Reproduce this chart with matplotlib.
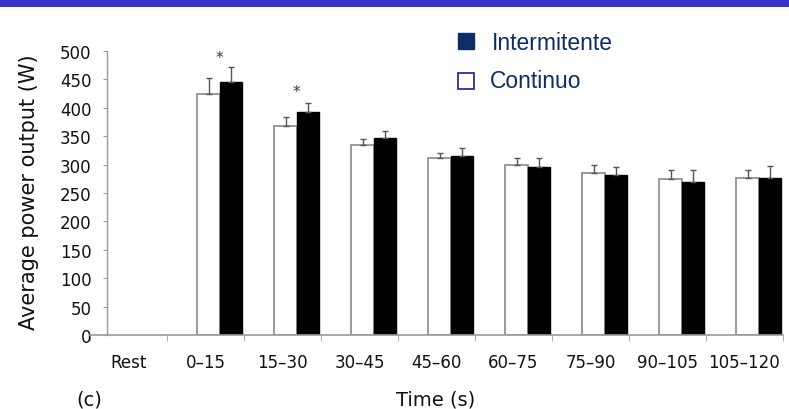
import matplotlib
matplotlib.use("Agg")
import matplotlib.pyplot as plt
from matplotlib.patches import Rectangle
import numpy as np

categories = ["Rest", "0\u201315", "15\u201330", "30\u201345", "45\u201360", "60\u201375", "75\u201390", "90\u2013105", "105\u2013120"]
continuo = [0, 424, 368, 335, 311, 300, 285, 275, 276]
continuo_err = [0, 28, 16, 10, 9, 11, 15, 16, 15]
intermitente = [0, 446, 393, 346, 316, 295, 282, 270, 276]
intermitente_err = [0, 25, 15, 14, 14, 16, 14, 21, 21]
asterisk_idx = [1, 2]
asterisk_y = [489, 428]
yticks = [0, 50, 100, 150, 200, 250, 300, 350, 400, 450, 500]

W, H = 789, 410
fig = plt.figure(figsize=(W / 100, H / 100), dpi=100)
fig.patch.set_facecolor("white")

# top blue band
fig.patches.append(Rectangle((0, 1 - 8 / H), 1, 8 / H, transform=fig.transFigure,
                             facecolor="#3434c8", edgecolor="none"))

ax = fig.add_axes([90 / W, 74 / H, 693 / W, 284 / H])
ax.set_facecolor("white")

x = np.arange(len(categories))
bw = 0.286
off_w = -0.104 + bw / 2
off_b = off_w + bw

mask = np.array(continuo) > 0
xc = x[mask]
ax.bar(xc + off_w, np.array(continuo)[mask], bw, color="white", edgecolor="#8a8a8a", linewidth=1.2, zorder=2)
ax.bar(xc + off_b, np.array(intermitente)[mask], bw, color="black", edgecolor="black", linewidth=1, zorder=2)
ax.errorbar(xc + off_w, np.array(continuo)[mask],
            yerr=[np.zeros(mask.sum()), np.array(continuo_err)[mask]],
            fmt="none", ecolor="#555555", elinewidth=1, capsize=2.5, capthick=1, zorder=3)
ax.errorbar(xc + off_b, np.array(intermitente)[mask],
            yerr=[np.zeros(mask.sum()), np.array(intermitente_err)[mask]],
            fmt="none", ecolor="#555555", elinewidth=1, capsize=2.5, capthick=1, zorder=3)

for i, yv in zip(asterisk_idx, asterisk_y):
    ax.text(i + off_w + bw / 2, yv, "*", ha="center", va="center", fontsize=11, color="#333333")

ax.set_xlim(-0.5, len(categories) - 0.5)
ax.set_ylim(0, 500)

for s in ["top", "right"]:
    ax.spines[s].set_visible(False)
ax.spines["left"].set_position(("data", -0.28))
ax.spines["left"].set_color("#9a9a9a")
ax.spines["bottom"].set_color("#9a9a9a")
ax.spines["left"].set_linewidth(1)
ax.spines["bottom"].set_linewidth(1.2)

tickfont = dict(family="DejaVu Sans", size=12)
ax.set_yticks(yticks)
ax.set_yticklabels([str(v) for v in yticks], **tickfont)
ax.tick_params(axis="y", length=3, color="#9a9a9a", pad=8, colors="#111111")
ax.set_xticks(x)
ax.set_xticklabels(categories, **tickfont)
ax.tick_params(axis="x", length=0, pad=13, colors="#111111")
ax.set_xticks(np.arange(len(categories) + 1) - 0.5, minor=True)
ax.tick_params(axis="x", which="minor", length=4, color="#9a9a9a")

ax.set_ylabel("Average power output (W)", family="DejaVu Sans", fontsize=15, color="#111111")
ax.yaxis.set_label_coords((39 - 90) / 693, (336 - 192) / 284)
fig.text(436 / W, 1 - 400 / H, "Time (s)", ha="center", va="center", family="DejaVu Sans", fontsize=14, color="#111111")
fig.text(89 / W, 1 - 400 / H, "(c)", ha="center", va="center", family="DejaVu Sans", fontsize=14, color="#111111")

# legend
navy = "#0c2d66"
fig.patches.append(Rectangle((458 / W, 1 - 50 / H), 16 / W, 16 / H, transform=fig.transFigure,
                             facecolor=navy, edgecolor=navy))
fig.patches.append(Rectangle((458 / W, 1 - 90 / H), 16 / W, 16 / H, transform=fig.transFigure,
                             facecolor="white", edgecolor="#1a1aa0", linewidth=1.2))
fig.text(492 / W, 1 - 43 / H, "Intermitente", ha="left", va="center", family="Liberation Sans", fontsize=16.5, color=navy)
fig.text(490 / W, 1 - 82 / H, "Continuo", ha="left", va="center", family="Liberation Sans", fontsize=16.5, color=navy)

fig.savefig("out.png", dpi=100)
